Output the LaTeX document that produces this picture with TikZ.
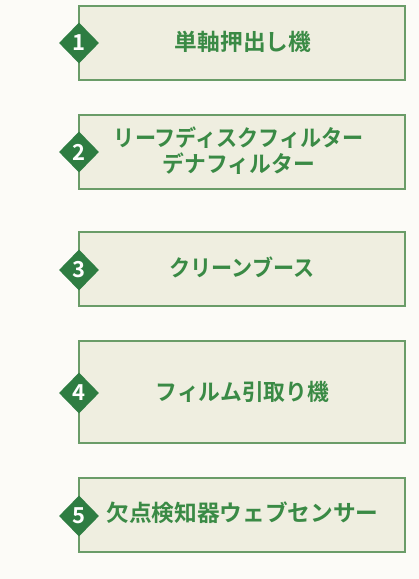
\documentclass[tikz,border=0pt]{standalone}
\usepackage{fontspec}
\usepackage{graphicx}
\newfontfamily\jpfont{Noto Sans CJK JP}[BoldFont={* Bold}]
\usetikzlibrary{shapes.geometric}
\definecolor{bgc}{HTML}{FCFBF7}
\definecolor{boxfill}{HTML}{EFEEE0}
\definecolor{boxline}{HTML}{6A9C68}
\definecolor{txtg}{HTML}{3A8A45}
\definecolor{dia}{HTML}{2E7D42}
\newcommand{\hsq}[2]{\scalebox{#1}[1]{#2}}
\tikzset{
  x=1pt, y=-1pt,
  stepbox/.style={draw=boxline, fill=boxfill, line width=1.2pt},
  steplabel/.style={text=txtg, font=\jpfont\bfseries\fontsize{22.7}{26}\selectfont, align=center, inner sep=0pt},
  numdia/.style={fill=dia, draw=none, diamond, minimum width=40pt, minimum height=41pt, inner sep=0pt,
    text=white, font=\jpfont\bfseries\fontsize{22}{22}\selectfont},
}
\begin{document}
\begin{tikzpicture}
\fill[bgc] (0,0) rectangle (419,579);
\useasboundingbox (0,0) rectangle (419,579);
% boxes
\draw[stepbox] (79,6) rectangle (405,80);
\draw[stepbox] (79,115) rectangle (405,189);
\draw[stepbox] (79,232) rectangle (405,306);
\draw[stepbox] (79,341) rectangle (405,443);
\draw[stepbox] (79,478) rectangle (405,552);
% labels
\node[steplabel] (t1) at (243,41.5) {単軸押出し機};
\node[steplabel] (t2) at (239,151) {\hsq{0.93}{リーフディスクフィルター}\\\hsq{0.96}{デナフィルター}};
\node[steplabel] (t3) at (242,267) {\hsq{0.93}{クリーンブース}};
\node[steplabel] (t4) at (242.5,391.5) {\hsq{0.96}{フィルム引取り機}};
\node[steplabel] (t5) at (242.5,513) {欠点検知器ウェブセンサー};
% diamonds
\node[numdia] (d1) at (79,43) {1};
\node[numdia] (d2) at (79,152) {2};
\node[numdia] (d3) at (79,270) {3};
\node[numdia] (d4) at (79,393) {4};
\node[numdia] (d5) at (79,516) {5};
\end{tikzpicture}
\end{document}
